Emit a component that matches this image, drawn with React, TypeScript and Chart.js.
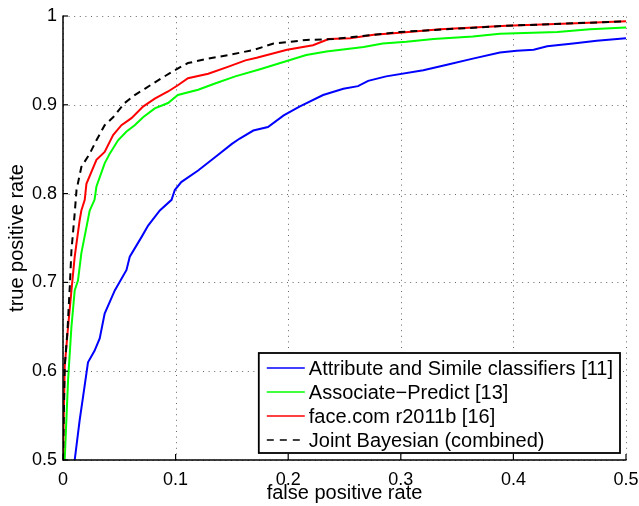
import React, { useEffect, useRef } from "react";
import { Chart, registerables } from "chart.js";
Chart.register(...registerables);

// ---- data ----
const xTicks = [0, 0.1, 0.2, 0.3, 0.4, 0.5];
const xTickLabels = ["0", "0.1", "0.2", "0.3", "0.4", "0.5"];
const yTicks = [0.5, 0.6, 0.7, 0.8, 0.9, 1];
const yTickLabels = ["0.5", "0.6", "0.7", "0.8", "0.9", "1"];

const seriesLabels = [
  "Attribute and Simile classifiers [11]",
  "Associate\u2212Predict [13]",
  "face.com r2011b [16]",
  "Joint Bayesian (combined)",
];

const attrFpr = [0.0104, 0.0148, 0.0178, 0.0222, 0.028, 0.0326, 0.037, 0.046, 0.0564, 0.0593, 0.0697, 0.0756, 0.086, 0.0964, 0.0993, 0.105, 0.12, 0.135, 0.15, 0.157, 0.169, 0.182, 0.196, 0.21, 0.231, 0.249, 0.262, 0.271, 0.287, 0.32, 0.341, 0.364, 0.388, 0.403, 0.418, 0.43, 0.453, 0.474, 0.5];
const attrTpr = [0.5, 0.545, 0.571, 0.61, 0.623, 0.637, 0.665, 0.691, 0.714, 0.729, 0.751, 0.764, 0.781, 0.793, 0.804, 0.813, 0.826, 0.841, 0.856, 0.862, 0.871, 0.875, 0.888, 0.898, 0.911, 0.918, 0.921, 0.927, 0.932, 0.939, 0.945, 0.952, 0.959, 0.961, 0.962, 0.966, 0.969, 0.972, 0.975];

const apFpr = [0.0015, 0.0045, 0.0075, 0.0104, 0.0133, 0.0163, 0.0208, 0.0237, 0.028, 0.0297, 0.037, 0.0415, 0.0489, 0.0564, 0.0637, 0.0711, 0.0815, 0.0933, 0.102, 0.12, 0.135, 0.153, 0.175, 0.193, 0.216, 0.234, 0.267, 0.284, 0.305, 0.329, 0.364, 0.388, 0.439, 0.468, 0.5];
const apTpr = [0.5, 0.59, 0.65, 0.691, 0.702, 0.733, 0.762, 0.781, 0.793, 0.808, 0.834, 0.845, 0.86, 0.87, 0.877, 0.886, 0.896, 0.902, 0.911, 0.917, 0.924, 0.932, 0.94, 0.947, 0.956, 0.96, 0.965, 0.969, 0.971, 0.974, 0.977, 0.98, 0.982, 0.985, 0.987];

const faceFpr = [0, 0.0015, 0.0045, 0.0075, 0.0104, 0.0148, 0.0163, 0.0193, 0.0208, 0.0297, 0.037, 0.0445, 0.0519, 0.0608, 0.0711, 0.0815, 0.0933, 0.102, 0.111, 0.129, 0.147, 0.162, 0.172, 0.199, 0.222, 0.236, 0.255, 0.276, 0.299, 0.335, 0.394, 0.462, 0.5];
const faceTpr = [0.5, 0.605, 0.65, 0.691, 0.729, 0.77, 0.781, 0.793, 0.811, 0.838, 0.847, 0.866, 0.877, 0.885, 0.898, 0.907, 0.915, 0.922, 0.93, 0.935, 0.943, 0.95, 0.953, 0.962, 0.967, 0.974, 0.975, 0.979, 0.981, 0.985, 0.989, 0.992, 0.994];

const jbFpr = [0, 0.0015, 0.004, 0.006, 0.0075, 0.0104, 0.012, 0.0163, 0.0237, 0.0297, 0.037, 0.0445, 0.0548, 0.0637, 0.0726, 0.0875, 0.0993, 0.111, 0.129, 0.147, 0.17, 0.187, 0.216, 0.24, 0.299, 0.394, 0.5];
const jbTpr = [0.5, 0.605, 0.646, 0.695, 0.736, 0.778, 0.804, 0.83, 0.845, 0.86, 0.877, 0.886, 0.902, 0.911, 0.918, 0.93, 0.939, 0.947, 0.952, 0.956, 0.962, 0.969, 0.973, 0.974, 0.982, 0.989, 0.994];

const seriesColors = ["#0000ff", "#00ff00", "#ff0000", "#000000"];

const FONT = "'Liberation Sans', Arial, Helvetica, sans-serif";

const toPts = (xs: number[], ys: number[]) => xs.map((x, i) => ({ x, y: ys[i] }));

const matlabPlugin = {
  id: "matlabAxes",
  beforeDatasetsDraw(chart: any) {
    const { ctx, chartArea: a, scales } = chart;
    const x = scales.x, y = scales.y;
    ctx.save();
    ctx.strokeStyle = "rgba(0,0,0,0.6)";
    ctx.lineWidth = 1;
    ctx.setLineDash([1, 4.6]);
    xTicks.forEach((v) => {
      const px = Math.round(x.getPixelForValue(v)) + 0.5;
      ctx.beginPath();
      ctx.moveTo(px, a.bottom);
      ctx.lineTo(px, a.top);
      ctx.stroke();
    });
    yTicks.forEach((v) => {
      const py = Math.round(y.getPixelForValue(v)) + 0.5;
      ctx.beginPath();
      ctx.moveTo(a.left, py);
      ctx.lineTo(a.right, py);
      ctx.stroke();
    });
    ctx.restore();
  },
  afterDatasetsDraw(chart: any) {
    const { ctx, chartArea: a, scales } = chart;
    const x = scales.x, y = scales.y;
    ctx.save();
    ctx.setLineDash([]);
    ctx.strokeStyle = "#000";
    ctx.lineWidth = 1.5;
    ctx.beginPath();
    ctx.moveTo(a.left, a.top - 0.5);
    ctx.lineTo(a.left, a.bottom);
    ctx.lineTo(a.right + 0.5, a.bottom);
    ctx.stroke();
    ctx.lineWidth = 1.2;
    xTicks.forEach((v) => {
      const px = x.getPixelForValue(v);
      ctx.beginPath();
      ctx.moveTo(px, a.bottom);
      ctx.lineTo(px, a.bottom - 6);
      ctx.stroke();
    });
    yTicks.forEach((v) => {
      const py = y.getPixelForValue(v);
      ctx.beginPath();
      ctx.moveTo(a.left, py);
      ctx.lineTo(a.left + 5, py);
      ctx.stroke();
    });

    // legend (inside, south-east)
    const boxR = a.right - 6;
    const boxB = a.bottom - 7;
    const rowH = 24;
    const padL = 8, sample = 38, gap = 4, padR = 7, padT = 15, padB = 13;
    ctx.font = "20px " + FONT;
    const labels = chart.data.datasets.map((d: any) => d.label);
    const tw = Math.max(...labels.map((l: string) => ctx.measureText(l).width));
    const boxW = padL + sample + gap + tw + padR;
    const boxH = padT + rowH * (labels.length - 1) + padB;
    const boxL = boxR - boxW;
    const boxT = boxB - boxH;
    ctx.fillStyle = "#fff";
    ctx.fillRect(boxL, boxT, boxW, boxH);
    ctx.strokeStyle = "#000";
    ctx.lineWidth = 1.8;
    ctx.strokeRect(boxL, boxT, boxW, boxH);
    chart.data.datasets.forEach((d: any, i: number) => {
      const cy = boxT + padT + i * rowH;
      ctx.strokeStyle = d.borderColor;
      ctx.lineWidth = 1.5;
      ctx.setLineDash(d.borderDash && d.borderDash.length ? [7, 6] : []);
      ctx.beginPath();
      ctx.moveTo(boxL + padL, cy);
      ctx.lineTo(boxL + padL + sample, cy);
      ctx.stroke();
      ctx.setLineDash([]);
      ctx.fillStyle = "#000";
      ctx.textAlign = "left";
      ctx.textBaseline = "middle";
      ctx.fillText(d.label, boxL + padL + sample + gap, cy + 1);
    });
    ctx.restore();
  },
};

export default function App() {
  const ref = useRef<HTMLCanvasElement | null>(null);
  useEffect(() => {
    if (!ref.current) return;
    Chart.defaults.font.family = FONT;
    const series = [
      toPts(attrFpr, attrTpr),
      toPts(apFpr, apTpr),
      toPts(faceFpr, faceTpr),
      toPts(jbFpr, jbTpr),
    ];
    const chart = new Chart(ref.current, {
      type: "line",
      data: {
        datasets: series.map((pts, i) => ({
          label: seriesLabels[i],
          data: pts,
          borderColor: seriesColors[i],
          backgroundColor: seriesColors[i],
          borderWidth: 2,
          borderDash: i === 3 ? [7, 5] : [],
          pointRadius: 0,
          tension: 0,
          fill: false,
          order: 4 - i,
        })),
      },
      options: {
        animation: false,
        responsive: false,
        devicePixelRatio: 1,
        layout: { padding: { left: 0, top: 16, right: 13, bottom: 0 } },
        plugins: {
          legend: { display: false },
          tooltip: { enabled: false },
        },
        scales: {
          x: {
            type: "linear",
            min: 0,
            max: 0.5,
            grid: { display: false, drawTicks: false },
            border: { display: false },
            afterBuildTicks: (s: any) => {
              s.ticks = xTicks.map((v) => ({ value: v }));
            },
            afterFit: (s: any) => {
              s.height = 46;
              s.paddingLeft = 0;
              s.paddingRight = 0;
            },
            ticks: {
              autoSkip: false,
              maxRotation: 0,
              padding: 9,
              color: "#000",
              font: { size: 18, family: FONT },
              callback: (v: any) => xTickLabels[xTicks.indexOf(Number(v))] ?? "",
            },
            title: {
              display: true,
              text: "false positive rate",
              color: "#000",
              font: { size: 20, family: FONT },
              padding: { top: 0, bottom: 1 },
            },
          },
          y: {
            type: "linear",
            min: 0.5,
            max: 1,
            grid: { display: false, drawTicks: false },
            border: { display: false },
            afterBuildTicks: (s: any) => {
              s.ticks = yTicks.map((v) => ({ value: v }));
            },
            afterFit: (s: any) => {
              s.width = 63;
              s.paddingTop = 0;
              s.paddingBottom = 0;
            },
            ticks: {
              autoSkip: false,
              padding: 6,
              color: "#000",
              font: { size: 18, family: FONT },
              callback: (v: any) => yTickLabels[yTicks.indexOf(Number(v))] ?? "",
            },
            title: {
              display: true,
              text: "true positive rate",
              color: "#000",
              font: { size: 20, family: FONT },
              padding: { top: 5, bottom: 0 },
            },
          },
        },
      },
      plugins: [matlabPlugin],
    } as any);
    return () => chart.destroy();
  }, []);
  return (
    <div style={{ position: "absolute", left: 0, top: 0, width: 639, height: 506, background: "#fff" }}>
      <canvas ref={ref} width={639} height={506} style={{ display: "block" }} />
    </div>
  );
}
